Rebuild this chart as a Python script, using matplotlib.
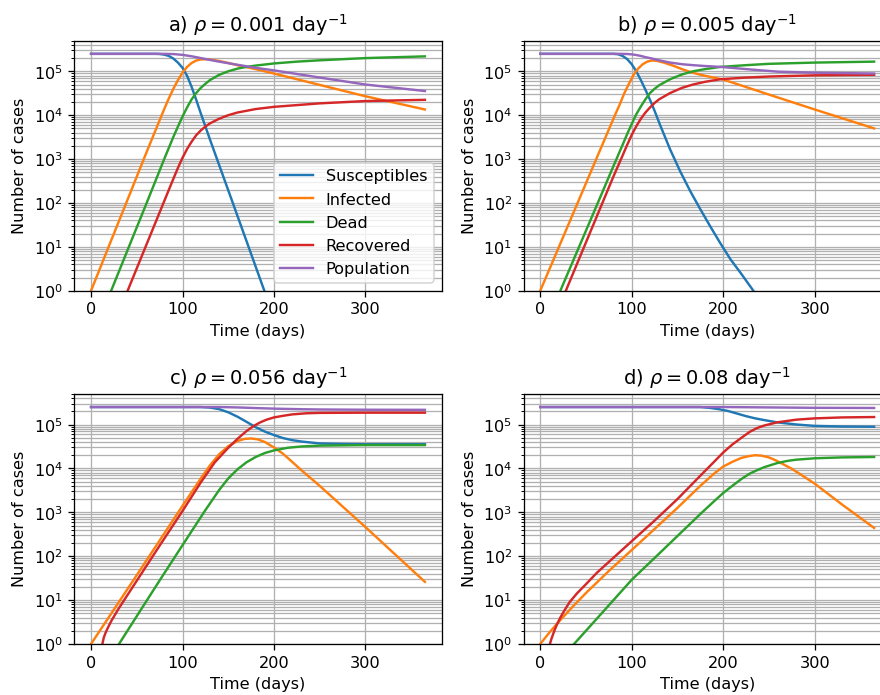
import matplotlib
matplotlib.use("Agg")
import matplotlib.pyplot as plt

# Compartment curves of the epidemic model for four values of rho.
# Every series is a list of (day, number of cases) pairs.
series_names = ["Susceptibles", "Infected", "Dead", "Recovered", "Population"]
panel_letters = ["a", "b", "c", "d"]
rho_labels = ["0.001", "0.005", "0.056", "0.08"]
x_ticks = [0, 100, 200, 300]

# a) rho = 0.001
a_susceptibles = [(0, 2.5e5), (70, 2.5e5), (75, 2.48e5), (80, 2.4e5), (85, 2.24e5), (90, 1.95e5),
                  (95, 1.58e5), (100, 1.2e5), (105, 7.9e4), (110, 4.4e4), (115, 2.24e4),
                  (120, 1.1e4), (130, 2.8e3), (150, 195), (170, 13.5), (190, 0.93)]
a_infected = [(0, 1), (20, 11), (40, 120), (60, 1.32e3), (80, 1.38e4), (85, 2.4e4), (90, 4.0e4),
              (95, 6.3e4), (100, 9.3e4), (105, 1.26e5), (110, 1.55e5), (115, 1.76e5), (120, 1.86e5),
              (125, 1.88e5), (130, 1.86e5), (140, 1.72e5), (150, 1.55e5), (160, 1.38e5),
              (180, 1.12e5), (200, 8.9e4), (250, 4.9e4), (300, 2.7e4), (365, 1.35e4)]
a_dead = [(22, 1), (40, 8.5), (60, 91), (80, 1.0e3), (90, 3.2e3), (95, 5.5e3), (100, 9.3e3),
          (105, 1.5e4), (110, 2.3e4), (115, 3.2e4), (120, 4.2e4), (125, 5.2e4), (130, 6.3e4),
          (140, 8.3e4), (150, 1.0e5), (160, 1.15e5), (170, 1.26e5), (180, 1.35e5), (200, 1.51e5),
          (225, 1.66e5), (250, 1.78e5), (300, 2.0e5), (365, 2.19e5)]
a_recovered = [(40, 1), (60, 10.5), (80, 110), (90, 355), (95, 630), (100, 1.07e3), (105, 1.7e3),
               (110, 2.5e3), (115, 3.5e3), (120, 4.5e3), (125, 5.5e3), (130, 6.5e3), (140, 8.3e3),
               (150, 1.0e4), (160, 1.15e4), (180, 1.38e4), (200, 1.55e4), (250, 1.86e4),
               (300, 2.1e4), (365, 2.24e4)]
a_population = [(0, 2.5e5), (80, 2.5e5), (90, 2.47e5), (100, 2.37e5), (110, 2.2e5), (120, 2.0e5),
                (130, 1.82e5), (140, 1.66e5), (160, 1.41e5), (180, 1.2e5), (200, 1.05e5),
                (250, 7.2e4), (300, 5.0e4), (365, 3.55e4)]

# b) rho = 0.005
b_susceptibles = [(0, 2.5e5), (80, 2.5e5), (85, 2.45e5), (90, 2.24e5), (95, 1.9e5), (100, 1.45e5),
                  (105, 1.0e5), (110, 6.3e4), (115, 3.8e4), (120, 2.24e4), (125, 1.26e4),
                  (131, 6.0e3), (142, 1.66e3), (153, 525), (164, 186), (175, 72), (186, 29),
                  (197, 12), (208, 5.2), (220, 2.4), (233, 1.0)]
b_infected = [(0, 1), (20, 9.5), (40, 91), (60, 870), (80, 8.3e3), (87, 1.78e4), (92, 3.2e4),
              (97, 5.2e4), (102, 8.3e4), (107, 1.15e5), (112, 1.45e5), (117, 1.66e5), (122, 1.76e5),
              (127, 1.74e5), (135, 1.58e5), (145, 1.35e5), (155, 1.12e5), (165, 9.5e4),
              (180, 7.9e4), (200, 6.5e4), (250, 2.95e4), (300, 1.35e4), (365, 5.0e3)]
b_dead = [(22, 1), (40, 7.6), (60, 72), (80, 690), (90, 2.1e3), (95, 3.7e3), (100, 6.3e3),
          (105, 1.05e4), (110, 1.58e4), (115, 2.3e4), (120, 3.2e4), (125, 4.0e4), (130, 4.8e4),
          (142, 6.6e4), (155, 8.5e4), (167, 1.0e5), (180, 1.12e5), (197, 1.26e5), (225, 1.38e5),
          (250, 1.48e5), (300, 1.58e5), (365, 1.66e5)]
b_recovered = [(28, 1), (40, 4), (60, 40), (80, 400), (90, 1.2e3), (95, 2.1e3), (100, 3.55e3),
               (105, 5.6e3), (110, 8.3e3), (115, 1.15e4), (120, 1.5e4), (125, 1.9e4), (130, 2.3e4),
               (142, 3.2e4), (155, 4.2e4), (167, 5.0e4), (180, 5.75e4), (197, 6.6e4), (225, 7.2e4),
               (250, 7.6e4), (300, 8.1e4), (365, 8.3e4)]
b_population = [(0, 2.5e5), (87, 2.5e5), (95, 2.48e5), (100, 2.43e5), (105, 2.35e5), (110, 2.24e5),
                (115, 2.1e5), (120, 2.0e5), (130, 1.78e5), (142, 1.58e5), (155, 1.45e5),
                (167, 1.38e5), (180, 1.32e5), (197, 1.26e5), (230, 1.1e5), (260, 9.8e4),
                (300, 9.3e4), (365, 8.9e4)]

# c) rho = 0.056
c_susceptibles = [(0, 2.5e5), (120, 2.5e5), (130, 2.43e5), (140, 2.24e5), (150, 1.9e5),
                  (160, 1.51e5), (170, 1.15e5), (180, 8.7e4), (190, 6.9e4), (200, 5.75e4),
                  (210, 4.9e4), (220, 4.4e4), (230, 4.1e4), (250, 3.7e4), (275, 3.6e4),
                  (300, 3.55e4), (365, 3.55e4)]
c_infected = [(0, 1), (50, 37), (100, 1.4e3), (120, 5.9e3), (130, 1.17e4), (140, 2.1e4),
              (150, 3.2e4), (160, 4.2e4), (168, 4.7e4), (175, 4.8e4), (182, 4.6e4), (190, 4.0e4),
              (200, 3.0e4), (210, 2.15e4), (220, 1.4e4), (230, 9.1e3), (250, 4.0e3), (300, 460),
              (365, 26)]
c_dead = [(30.6, 1), (50, 4.3), (75, 28), (100, 178), (125, 1.12e3), (140, 3.2e3), (150, 5.9e3),
          (160, 9.5e3), (170, 1.38e4), (180, 1.82e4), (190, 2.24e4), (200, 2.57e4), (215, 2.95e4),
          (230, 3.16e4), (250, 3.3e4), (300, 3.4e4), (365, 3.4e4)]
c_recovered = [(12.4, 1), (14, 1.41), (16, 1.82), (18, 2.24), (22, 3.3), (30, 6.3), (40, 13.2),
               (54, 37), (75, 174), (100, 1.07e3), (120, 4.8e3), (135, 1.35e4), (149, 2.8e4),
               (160, 4.7e4), (170, 7.1e4), (178, 9.3e4), (185, 1.12e5), (192, 1.29e5),
               (200, 1.45e5), (210, 1.58e5), (220, 1.7e5), (235, 1.8e5), (250, 1.84e5),
               (300, 1.86e5), (365, 1.86e5)]
c_population = [(0, 2.5e5), (140, 2.5e5), (160, 2.45e5), (180, 2.37e5), (200, 2.3e5),
                (225, 2.24e5), (250, 2.2e5), (300, 2.17e5), (365, 2.16e5)]

# d) rho = 0.08
d_susceptibles = [(0, 2.5e5), (175, 2.5e5), (185, 2.4e5), (195, 2.24e5), (205, 2.04e5),
                  (215, 1.78e5), (225, 1.55e5), (235, 1.38e5), (245, 1.26e5), (259, 1.12e5),
                  (280, 1.0e5), (300, 9.3e4), (330, 9.0e4), (365, 8.9e4)]
d_infected = [(0, 1), (10, 1.82), (20, 3.16), (35, 6.9), (50, 14.5), (75, 46), (100, 138),
              (125, 417), (150, 1.26e3), (175, 4.0e3), (190, 7.6e3), (200, 1.1e4), (210, 1.41e4),
              (220, 1.74e4), (228, 1.9e4), (235, 2.0e4), (242, 1.95e4), (250, 1.78e4),
              (258, 1.51e4), (266, 1.23e4), (275, 9.8e3), (285, 7.2e3), (300, 4.5e3),
              (330, 1.5e3), (365, 440)]
d_dead = [(37, 1), (50, 2.0), (75, 7.6), (100, 29), (125, 91), (150, 288), (175, 912),
          (190, 1.78e3), (200, 2.75e3), (210, 4.0e3), (220, 5.75e3), (229, 7.6e3), (237, 9.1e3),
          (245, 1.07e4), (259, 1.32e4), (270, 1.48e4), (280, 1.58e4), (300, 1.7e4),
          (330, 1.78e4), (365, 1.82e4)]
d_recovered = [(10.6, 1), (12, 1.26), (14, 1.66), (16, 2.14), (18, 2.7), (22, 4.0), (26, 5.6),
               (32, 8.9), (40, 14.1), (50, 23), (62, 42), (75, 74), (100, 219), (125, 646),
               (150, 2.0e3), (175, 6.8e3), (190, 1.41e4), (200, 2.3e4), (210, 3.5e4), (220, 5.0e4),
               (229, 6.8e4), (237, 8.3e4), (245, 9.5e4), (259, 1.12e5), (280, 1.29e5),
               (300, 1.38e5), (330, 1.45e5), (365, 1.48e5)]
d_population = [(0, 2.5e5), (200, 2.5e5), (250, 2.45e5), (300, 2.4e5), (365, 2.38e5)]

panels = [
    [a_susceptibles, a_infected, a_dead, a_recovered, a_population],
    [b_susceptibles, b_infected, b_dead, b_recovered, b_population],
    [c_susceptibles, c_infected, c_dead, c_recovered, c_population],
    [d_susceptibles, d_infected, d_dead, d_recovered, d_population],
]

DPI = 116
W_PX, H_PX = 880, 695
fig = plt.figure(figsize=((W_PX + 0.4) / DPI, (H_PX + 0.4) / DPI), dpi=DPI)

# axes boxes in pixels: (left, top, width, height); the right column runs past the canvas edge
boxes = [(74.3, 41.0, 367.1, 250.0), (523.3, 41.0, 367.1, 250.0),
         (74.3, 394.0, 367.1, 250.0), (523.3, 394.0, 367.1, 250.0)]

for i, (letter, rho, curves, box) in enumerate(zip(panel_letters, rho_labels, panels, boxes)):
    l, t, w, h = box
    ax = fig.add_axes([l / W_PX, 1 - (t + h) / H_PX, w / W_PX, h / H_PX])
    for name, pts in zip(series_names, curves):
        days = [p[0] for p in pts]
        cases = [p[1] for p in pts]
        ax.plot(days, cases, label=name, lw=1.5)
    ax.set_yscale("log")
    ax.set_xlim(-18.25, 383.25)
    ax.set_ylim(1, 5e5)
    ax.set_xticks(x_ticks)
    ax.grid(True, which="both")
    ax.set_axisbelow(True)
    ax.set_xlabel("Time (days)")
    ax.set_ylabel("Number of cases")
    ax.set_title(f"{letter}) $\\rho = {rho}$ day$^{{-1}}$", fontsize=12)
    if i == 0:
        ax.legend(loc="lower right")

fig.savefig("out.png", dpi=DPI)
